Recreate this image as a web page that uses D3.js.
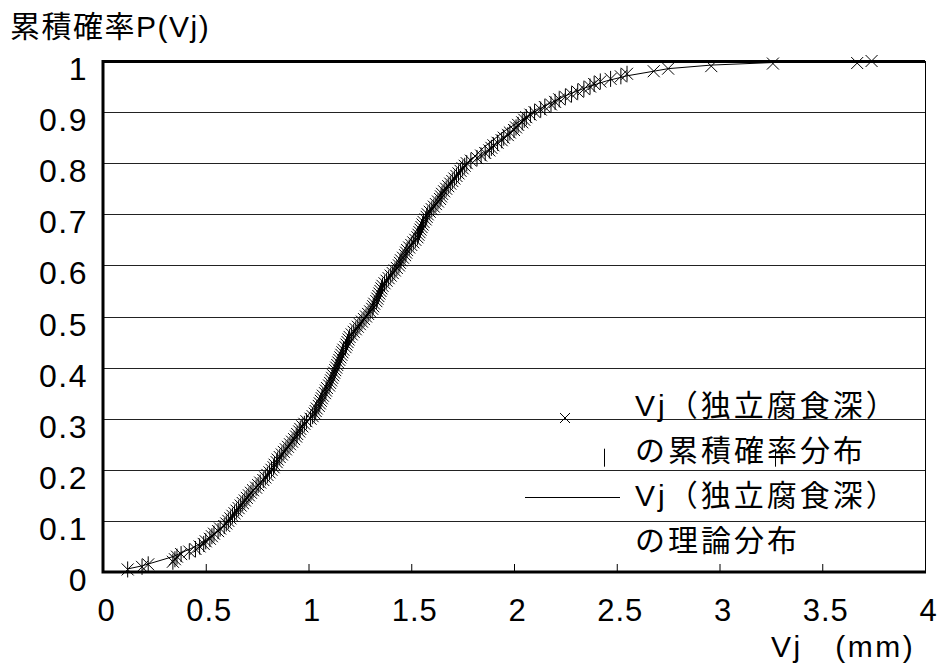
<!DOCTYPE html>
<html>
<head>
<meta charset="utf-8">
<script src="https://cdn.jsdelivr.net/npm/d3@7"></script>
<style>
  body { margin: 0; background: #fff; }
  text { font-family: "Liberation Sans", Arial, "Noto Sans CJK JP", sans-serif; fill: #000; }
</style>
</head>
<body>
<div class="chart"></div>
<script>
//Tick values on both axes.
var xTicks = [0, 0.5, 1, 1.5, 2, 2.5, 3, 3.5, 4];
var yTicks = [0, 0.1, 0.2, 0.3, 0.4, 0.5, 0.6, 0.7, 0.8, 0.9, 1];

var empV = [0.12, 0.19, 0.22, 0.34, 0.35, 0.36, 0.38, 0.42, 0.45, 0.47,
  0.49, 0.50, 0.52, 0.53, 0.54, 0.56, 0.57, 0.59, 0.60, 0.61,
  0.62, 0.63, 0.64, 0.65, 0.66, 0.67, 0.68, 0.69, 0.70, 0.71,
  0.72, 0.73, 0.745, 0.755, 0.765, 0.78, 0.79, 0.80, 0.81, 0.82,
  0.83, 0.835, 0.845, 0.85, 0.86, 0.87, 0.88, 0.89, 0.90, 0.91,
  0.92, 0.93, 0.94, 0.945, 0.955, 0.96, 0.97, 0.98, 0.99, 1.01,
  1.02, 1.03, 1.035, 1.04, 1.05, 1.055, 1.06, 1.065, 1.07, 1.08,
  1.085, 1.09, 1.10, 1.105, 1.11, 1.115, 1.12, 1.125, 1.13, 1.135,
  1.14, 1.145, 1.15, 1.155, 1.16, 1.165, 1.17, 1.18, 1.185, 1.19,
  1.195, 1.20, 1.21, 1.22, 1.23, 1.24, 1.25, 1.26, 1.27, 1.28,
  1.29, 1.30, 1.31, 1.315, 1.32, 1.33, 1.335, 1.34, 1.345, 1.35,
  1.355, 1.36, 1.37, 1.38, 1.39, 1.40, 1.41, 1.42, 1.43, 1.44,
  1.445, 1.45, 1.46, 1.47, 1.475, 1.48, 1.49, 1.50, 1.51, 1.52,
  1.53, 1.535, 1.54, 1.545, 1.55, 1.555, 1.56, 1.57, 1.575, 1.58,
  1.59, 1.60, 1.61, 1.62, 1.63, 1.64, 1.645, 1.65, 1.66, 1.67,
  1.68, 1.69, 1.70, 1.71, 1.72, 1.73, 1.74, 1.75, 1.76, 1.77,
  1.79, 1.82, 1.84, 1.86, 1.88, 1.89, 1.90, 1.92, 1.94, 1.95,
  1.97, 1.98, 2.00, 2.01, 2.02, 2.04, 2.05, 2.06, 2.08, 2.10,
  2.13, 2.15, 2.18, 2.20, 2.22, 2.25, 2.28, 2.31, 2.34, 2.37,
  2.39, 2.42, 2.47, 2.52, 2.55, 2.68, 2.75, 2.96, 3.26, 3.67, 3.74];
var empP = [0.005, 0.010, 0.015, 0.020, 0.025, 0.030, 0.035, 0.040, 0.045, 0.050,
  0.055, 0.060, 0.065, 0.070, 0.075, 0.080, 0.085, 0.090, 0.095, 0.100,
  0.105, 0.110, 0.115, 0.120, 0.125, 0.130, 0.135, 0.140, 0.145, 0.150,
  0.155, 0.160, 0.165, 0.170, 0.175, 0.180, 0.185, 0.190, 0.195, 0.200,
  0.205, 0.210, 0.215, 0.220, 0.225, 0.230, 0.235, 0.240, 0.245, 0.250,
  0.255, 0.260, 0.265, 0.270, 0.275, 0.280, 0.285, 0.290, 0.295, 0.300,
  0.305, 0.310, 0.315, 0.320, 0.325, 0.330, 0.335, 0.340, 0.345, 0.350,
  0.355, 0.360, 0.365, 0.370, 0.375, 0.380, 0.385, 0.390, 0.395, 0.400,
  0.405, 0.410, 0.415, 0.420, 0.425, 0.430, 0.435, 0.440, 0.445, 0.450,
  0.455, 0.460, 0.465, 0.470, 0.475, 0.480, 0.485, 0.490, 0.495, 0.500,
  0.505, 0.510, 0.515, 0.520, 0.525, 0.530, 0.535, 0.540, 0.545, 0.550,
  0.555, 0.560, 0.565, 0.570, 0.575, 0.580, 0.585, 0.590, 0.595, 0.600,
  0.605, 0.610, 0.615, 0.620, 0.625, 0.630, 0.635, 0.640, 0.645, 0.650,
  0.655, 0.660, 0.665, 0.670, 0.675, 0.680, 0.685, 0.690, 0.695, 0.700,
  0.705, 0.710, 0.715, 0.720, 0.725, 0.730, 0.735, 0.740, 0.745, 0.750,
  0.755, 0.760, 0.765, 0.770, 0.775, 0.780, 0.785, 0.790, 0.795, 0.800,
  0.805, 0.810, 0.815, 0.820, 0.825, 0.830, 0.835, 0.840, 0.845, 0.850,
  0.855, 0.860, 0.865, 0.870, 0.875, 0.880, 0.885, 0.890, 0.895, 0.900,
  0.905, 0.910, 0.915, 0.920, 0.925, 0.930, 0.935, 0.940, 0.945, 0.950,
  0.955, 0.960, 0.965, 0.970, 0.975, 0.980, 0.985, 0.990, 0.995, 0.996, 1.000];

//Theoretical distribution line.
var theoV = [0.12, 0.19, 0.34, 0.45, 0.55, 0.65, 0.75, 0.85, 0.95, 1.05, 1.15, 1.25, 1.35, 1.45,
  1.55, 1.65, 1.75, 1.85, 1.95, 2.05, 2.15, 2.25, 2.35, 2.45, 2.55, 2.68, 2.75, 2.96, 3.26, 3.74];
var theoP = [0.006, 0.012, 0.030, 0.050, 0.077, 0.113, 0.160, 0.215, 0.275, 0.340, 0.410, 0.480, 0.550, 0.620,
  0.685, 0.745, 0.790, 0.830, 0.862, 0.888, 0.912, 0.932, 0.948, 0.961, 0.971, 0.980, 0.985, 0.992, 0.997, 0.999];

//Two loose dash marks that sit in the legend area.
var strayV = [2.44, 3.27];
var strayP = [0.21, 0.21];

var legendRows = ["Vj（独立腐食深）", "の累積確率分布", "Vj（独立腐食深）", "の理論分布"];

var svgWidth = 940;
var svgHeight = 666;
var margin = { top: 61, right: 15, bottom: 94, left: 103 };
var chartWidth = svgWidth - margin.left - margin.right;
var chartHeight = svgHeight - margin.top - margin.bottom;

var svg = d3.select(".chart")
  .append("svg")
  .attr("width", svgWidth)
  .attr("height", svgHeight);

var chart = svg.append("g")
  .attr("transform", "translate(" + margin.left + "," + margin.top + ")");

var xScale = d3.scaleLinear().domain([0, 4]).range([0, chartWidth]);
var yScale = d3.scaleLinear().domain([0, 1]).range([chartHeight, 0]);

//Horizontal grid lines.
chart.append("g")
  .selectAll("line")
  .data(yTicks.slice(1, -1))
  .enter().append("line")
  .attr("x1", 0)
  .attr("x2", chartWidth)
  .attr("y1", function(d) { return Math.round(yScale(d)) + 0.5; })
  .attr("y2", function(d) { return Math.round(yScale(d)) + 0.5; })
  .attr("stroke", "#222")
  .attr("stroke-width", 1);

//Right border (thin).
chart.append("line")
  .attr("x1", chartWidth + 0.5).attr("x2", chartWidth + 0.5)
  .attr("y1", 0).attr("y2", chartHeight)
  .attr("stroke", "#000").attr("stroke-width", 1);

//Bottom axis with inside ticks.
var bottomAxis = d3.axisBottom(xScale)
  .tickValues(xTicks)
  .tickSize(-8)
  .tickPadding(27)
  .tickFormat(d3.format("~g"));

var xAxisG = chart.append("g")
  .attr("transform", "translate(0," + chartHeight + ")")
  .call(bottomAxis);
xAxisG.select(".domain").remove();
xAxisG.selectAll(".tick line").attr("stroke", "#000");
xAxisG.selectAll(".tick text")
  .attr("font-size", 31)
  .attr("font-family", "Liberation Sans, Arial, sans-serif")
  .attr("letter-spacing", 1)
  .attr("dx", 3);

//Left axis labels.
var leftAxis = d3.axisLeft(yScale)
  .tickValues(yTicks)
  .tickSize(0)
  .tickPadding(15)
  .tickFormat(d3.format("~g"));

var yAxisG = chart.append("g").call(leftAxis);
yAxisG.select(".domain").remove();
yAxisG.selectAll(".tick text")
  .attr("font-size", 32)
  .attr("font-family", "Liberation Sans, Arial, sans-serif")
  .attr("letter-spacing", 1.5)
  .attr("dy", "0.58em");

//Thick frame lines: top, left, bottom.
chart.append("path")
  .attr("d", "M" + chartWidth + ",0.5H0V" + chartHeight + "H" + (chartWidth + 1))
  .attr("fill", "none")
  .attr("stroke", "#000")
  .attr("stroke-width", 3);

//Theoretical line.
var line = d3.line()
  .x(function(d, i) { return xScale(theoV[i]); })
  .y(function(d, i) { return yScale(theoP[i]); });

chart.append("path")
  .datum(theoV)
  .attr("d", line)
  .attr("fill", "none")
  .attr("stroke", "#000")
  .attr("stroke-width", 1);

//Data points: "×" plus vertical dash.
var points = chart.append("g");
empV.forEach(function(v, i) {
  var cx = xScale(v), cy = yScale(empP[i]);
  points.append("path")
    .attr("d", "M" + (cx - 6) + "," + (cy - 6) + "L" + (cx + 6) + "," + (cy + 6) +
      "M" + (cx - 6) + "," + (cy + 6) + "L" + (cx + 6) + "," + (cy - 6))
    .attr("stroke", "#000").attr("stroke-width", 1).attr("fill", "none");
  if (v < 2.6) {
    points.append("line")
      .attr("x1", cx).attr("x2", cx)
      .attr("y1", cy - 8).attr("y2", cy + 8)
      .attr("stroke", "#000").attr("stroke-width", 1);
  }
});

strayV.forEach(function(v, i) {
  var cx = Math.round(xScale(v)) + 0.5, cy = yScale(strayP[i]);
  chart.append("line")
    .attr("x1", cx).attr("x2", cx)
    .attr("y1", cy - 16).attr("y2", cy + 2)
    .attr("stroke", "#000").attr("stroke-width", 1);
});

//Legend.
var legend = svg.append("g");
legend.append("path")
  .attr("d", "M560,413L570,423M560,423L570,413")
  .attr("stroke", "#000").attr("stroke-width", 1);
legend.append("line")
  .attr("x1", 525).attr("x2", 620)
  .attr("y1", 497.5).attr("y2", 497.5)
  .attr("stroke", "#000").attr("stroke-width", 1);

var legendY = [405, 450, 495, 540];
legend.selectAll("text.leg")
  .data(legendRows)
  .enter().append("text")
  .attr("class", "leg")
  .attr("x", 635)
  .attr("y", function(d, i) { return legendY[i]; })
  .attr("dy", "0.36em")
  .attr("font-size", 30)
  .attr("letter-spacing", 3)
  .text(function(d) { return d; });

//Axis titles.
svg.append("text")
  .attr("x", 10)
  .attr("y", 37)
  .attr("font-size", 30)
  .attr("letter-spacing", 1.5)
  .text("累積確率P(Vj)");

svg.append("text")
  .attr("x", 771)
  .attr("y", 657)
  .attr("font-size", 30)
  .attr("letter-spacing", 2.5)
  .text("Vj　(mm)");
</script>
</body>
</html>
